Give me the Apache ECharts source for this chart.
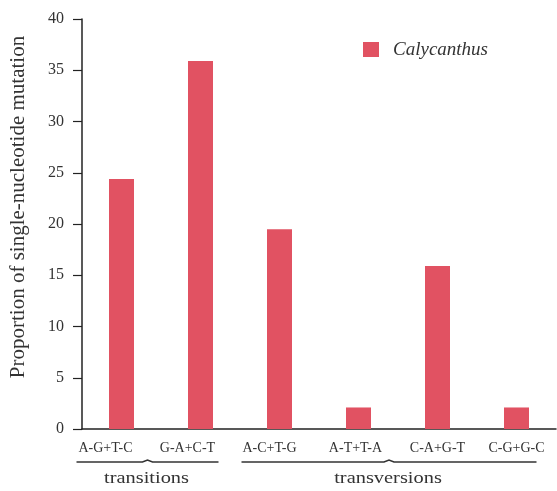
<!DOCTYPE html>
<html>
<head>
<meta charset="utf-8">
<script src="https://cdn.jsdelivr.net/npm/echarts@6/dist/echarts.min.js"></script>
<style>
  html, body { margin: 0; padding: 0; background: #fff; }
  #chart { width: 557px; height: 491px; }
</style>
</head>
<body>
<div id="chart"></div>
<script>
// Substitution classes and their share of single-nucleotide mutations (%)
const categories = ['A-G+T-C', 'G-A+C-T', 'A-C+T-G', 'A-T+T-A', 'C-A+G-T', 'C-G+G-C'];
const calycanthus = [24.4, 35.9, 19.5, 2.1, 15.9, 2.1];
const yTicks = { min: 0, max: 40, interval: 5 };
const groupNames = ['transitions', 'transversions'];
const groupMembers = [[0, 1], [2, 5]];

const serif = '"Liberation Serif", "DejaVu Serif", serif';
const barColor = '#e15262';
const ink = '#333';

// horizontal nudges of the category labels (px, negative = left)
const labelShift = [-16, -13, -10, -3, 0, 0];
const rich = {};
labelShift.forEach((s, i) => {
  rich['c' + i] = {
    fontFamily: serif, fontSize: 14, color: ink,
    padding: [0, Math.max(0, -2 * s), 0, Math.max(0, 2 * s)]
  };
});
// how far each bracket reaches past its outer labels' centres (left, right)
const bracketReach = [[29, 31], [28, 20]];

const chart = echarts.init(document.getElementById('chart'), null, { renderer: 'canvas' });

const option = {
  animation: false,
  backgroundColor: '#ffffff',
  grid: { left: 82, right: 1, top: 19, bottom: 62, containLabel: false, outerBoundsMode: 'none' },
  legend: {
    data: ['Calycanthus'],
    left: 358,
    top: 35,
    itemWidth: 16,
    itemHeight: 15,
    icon: 'rect',
    textStyle: {
      fontFamily: serif, fontStyle: 'italic', fontSize: 19, color: ink,
      padding: [0, 0, 0, 9]
    }
  },
  xAxis: {
    type: 'category',
    data: categories,
    axisLine: { lineStyle: { color: '#222', width: 1.5 } },
    axisTick: { show: false },
    axisLabel: {
      interval: 0,
      margin: 12,
      formatter: (v, i) => '{c' + i + '|' + v + '}',
      rich: rich
    }
  },
  yAxis: {
    type: 'value',
    min: yTicks.min,
    max: yTicks.max,
    interval: yTicks.interval,
    name: 'Proportion of single-nucleotide mutation',
    nameLocation: 'middle',
    nameGap: 53,
    nameTextStyle: { fontFamily: serif, fontSize: 21, color: ink, padding: [0, 0, 0, 34] },
    splitLine: { show: false },
    axisLine: { show: true, lineStyle: { color: '#222', width: 1.5 } },
    axisTick: { show: true, length: 9, lineStyle: { color: '#222', width: 1.2 } },
    axisLabel: { fontFamily: serif, fontSize: 16, color: ink, margin: 18 }
  },
  series: [{
    name: 'Calycanthus',
    type: 'bar',
    data: calycanthus,
    barWidth: 25,
    itemStyle: { color: barColor }
  }]
};

chart.setOption(option);

// Brackets naming the two substitution groups under the category labels
function drawGroups() {
  const px = c => chart.convertToPixel({ xAxisIndex: 0 }, categories[c]);
  const lineY = 462;
  const elements = [];
  groupMembers.forEach((m, gi) => {
    const x0 = px(m[0]) + labelShift[m[0]] - bracketReach[gi][0];
    const x1 = px(m[1]) + labelShift[m[1]] + bracketReach[gi][1];
    const mid = (x0 + x1) / 2;
    elements.push({
      type: 'polyline',
      shape: { points: [[x0, lineY], [mid - 5, lineY], [mid, lineY - 2], [mid + 5, lineY], [x1, lineY]] },
      style: { stroke: ink, lineWidth: 1.6, fill: null }
    });
    elements.push({
      type: 'text',
      x: mid - 1,
      y: 479,
      scaleX: 1.2,
      style: {
        text: groupNames[gi],
        fontFamily: serif,
        fontSize: 17,
        fill: ink,
        align: 'center',
        verticalAlign: 'middle'
      }
    });
  });
  chart.setOption({ graphic: elements });
}
drawGroups();
</script>
</body>
</html>
